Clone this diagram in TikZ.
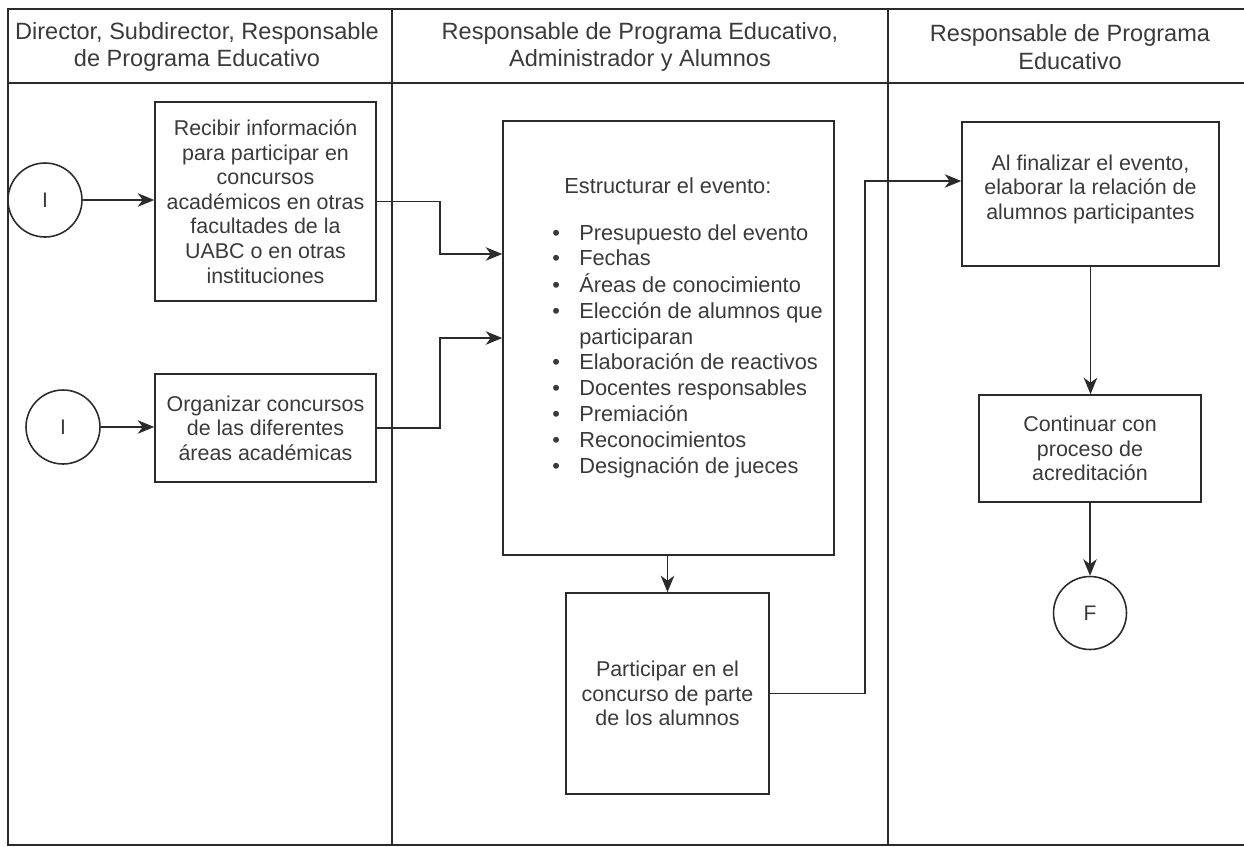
\documentclass[tikz,border=0pt]{standalone}
\usepackage{fontspec}
\setmainfont{Liberation Sans}
\usetikzlibrary{arrows.meta}
\definecolor{lineaGris}{HTML}{2B2B2B}
\definecolor{textoGris}{HTML}{3A3A3A}
\tikzset{
  flow/.style={-{Stealth[length=3.3mm,width=2.7mm,inset=1mm]},
    line width=0.9pt, draw=lineaGris},
  lane line/.style={line width=0.9pt, draw=lineaGris},
  lane title/.style={align=center, text=textoGris, inner sep=0pt,
    font=\fontsize{13.4}{15.5}\selectfont},
  proc box/.style={draw=lineaGris, line width=0.9pt, align=center,
    text=textoGris, inner sep=2pt, font=\fontsize{12.2}{14}\selectfont},
  term circle/.style={circle, draw=lineaGris, line width=0.9pt,
    minimum size=1.48cm, inner sep=0pt, text=textoGris,
    font=\fontsize{12}{14}\selectfont},
  item text/.style={text=textoGris, inner sep=0pt,
    font=\fontsize{12.4}{14.7}\selectfont}
}
\begin{document}
\begin{tikzpicture}[x=0.02cm, y=-0.02cm]
  \useasboundingbox (0,0) rectangle (1244,846);
  % carriles
  \draw[lane line] (1244,9) -- (8,9) -- (8,845) -- (1244,845);
  \draw[lane line] (8,83) -- (1244,83);
  \draw[lane line] (392,9) -- (392,845);
  \draw[lane line] (888,9) -- (888,845);
  \node[lane title] (lane1) at (197,47)
    {Director, Subdirector, Responsable\\de Programa Educativo};
  \node[lane title] (lane2) at (640,47)
    {Responsable de Programa Educativo,\\Administrador y Alumnos};
  \node[lane title] (lane3) at (1070,47)
    {Responsable de Programa\\Educativo};

  % primer carril
  \node[term circle] (ini1) at (45,200) {I};
  \node[term circle] (ini2) at (63,427) {I};
  \node[proc box, minimum width=4.42cm, minimum height=3.98cm] (recibir)
    at (265.5,201.5) {Recibir información\\para participar en\\concursos\\
    académicos en otras\\facultades de la\\UABC o en otras\\instituciones};
  \node[proc box, minimum width=4.42cm, minimum height=2.16cm] (organizar)
    at (265.5,428) {Organizar concursos\\de las diferentes\\áreas académicas};

  % segundo carril
  \node[proc box, minimum width=6.62cm, minimum height=8.68cm] (estructura)
    at (668.5,338) {};
  \node[item text, anchor=base west] (esttitulo) at (564,193)
    {Estructurar el evento:};
  \node[item text, anchor=base west] (estlista) at (552,240)
    {\begin{tabular}[t]{@{}l@{\hspace{11pt}}l@{}}
      \textbullet & Presupuesto del evento\\
      \textbullet & Fechas\\
      \textbullet & Áreas de conocimiento\\
      \textbullet & Elección de alumnos que\\
                  & participaran\\
      \textbullet & Elaboración de reactivos\\
      \textbullet & Docentes responsables\\
      \textbullet & Premiación\\
      \textbullet & Reconocimientos\\
      \textbullet & Designación de jueces
    \end{tabular}};
  \node[proc box, minimum width=4.06cm, minimum height=4.02cm] (participar)
    at (667.5,693.5) {Participar en el\\concurso de parte\\de los alumnos};

  % tercer carril
  \node[proc box, minimum width=5.14cm, minimum height=2.88cm] (finalizar)
    at (1090.5,194) {Al finalizar el evento,\\elaborar la relación de\\
    alumnos participantes\\[-6pt]};
  \node[proc box, minimum width=4.44cm, minimum height=2.14cm] (continuar)
    at (1090,448.5) {Continuar con\\proceso de\\acreditación};
  \node[term circle, minimum size=1.46cm] (fin) at (1090,613) {F};

  % conectores
  \draw[flow] (ini1.east) -- (ini1.east -| recibir.west);
  \draw[flow] (ini2.east) -- (ini2.east -| organizar.west);
  \draw[flow] (recibir.east) -- ++(63,0) |- (estructura.west |- 0,254);
  \draw[flow] (organizar.east) -- ++(63,0) |- (estructura.west);
  \draw[flow] (estructura.south -| participar.north) -- (participar.north);
  \draw[flow] (participar.east) -| (865,181) -- (finalizar.west |- 0,181);
  \draw[flow] (finalizar.south) -- (finalizar.south |- continuar.north);
  \draw[flow] (continuar.south) -- (fin.north);
\end{tikzpicture}
\end{document}
